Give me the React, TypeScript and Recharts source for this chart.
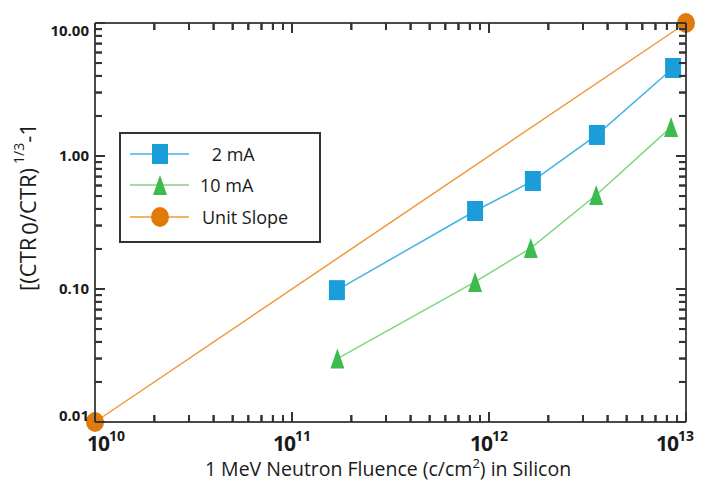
import React from "react";
import { LineChart, Line, XAxis, YAxis, Legend } from "recharts";

// ---- data ----
const fluence2mA = [1.69e11, 8.5e11, 1.67e12, 3.53e12, 8.6e12];
const ctr2mA = [0.098, 0.386, 0.649, 1.44, 4.59];
const fluence10mA = [1.7e11, 8.5e11, 1.63e12, 3.5e12, 8.4e12];
const ctr10mA = [0.030, 0.113, 0.203, 0.509, 1.65];
const unitSlopeFluence = [1e10, 1e13];
const unitSlopeCtr = [0.01, 10];

const seriesNames = ["2 mA", "10 mA", "Unit Slope"];

const xMajorTicks = [1e10, 1e11, 1e12, 1e13];
const xTickBase = "10";
const xTickExponents = ["10", "11", "12", "13"];
const yMajorTicks = [0.01, 0.1, 1, 10];
const yTickLabels = ["0.01", "0.10", "1.00", "10.00"];
const minorMultipliers = [2, 3, 4, 5, 6, 7, 8, 9];

const xTitle = "1 MeV Neutron Fluence (c/cm";
const xTitleSup = "2";
const xTitleEnd = ") in Silicon";

// ---- built tables ----
const withMinors = (majors: number[]) =>
  majors.flatMap((m, i) => (i < majors.length - 1 ? [m, ...minorMultipliers.map((k) => k * m)] : [m]));
const xTicks = withMinors(xMajorTicks);
const yTicks = withMinors(yMajorTicks);

const zip = (xs: number[], ys: number[]) => xs.map((x, i) => ({ x, y: ys[i] }));
const data2mA = zip(fluence2mA, ctr2mA);
const data10mA = zip(fluence10mA, ctr10mA);
const dataUnit = zip(unitSlopeFluence, unitSlopeCtr);

// ---- styles ----
const FONT = "'Open Sans', 'Noto Sans', sans-serif";
const AXIS = "#4a4a4a";
const TICK = "#333333";
const TEXT = "#1a1a1a";
const BLUE = "#1a9dd9";
const BLUE_LINE = "#45b2e4";
const GREEN = "#3dbb4e";
const GREEN_LINE = "#7fd680";
const ORANGE = "#e07b0b";
const ORANGE_LINE = "#ee9838";
const MINOR_LEN = 7;
const MAJOR_LEN = 10;

const majorIndex = (list: number[], v: number) =>
  list.findIndex((m) => Math.abs(m - v) / m < 1e-6);

const BottomTick = (props: any) => {
  const { x, y, payload } = props;
  const idx = majorIndex(xMajorTicks, payload.value);
  const major = idx >= 0;
  const dx = idx === 0 ? 11 : idx === xMajorTicks.length - 1 ? -11 : 0;
  return (
    <g>
      <line x1={x} x2={x} y1={y} y2={y - (major ? MAJOR_LEN : MINOR_LEN)} stroke={TICK} strokeWidth={2} />
      {major && (
        <text x={x + dx} y={y + 29} textAnchor="middle" fontFamily={FONT} fontWeight={700} fontSize={21} fill={TEXT} letterSpacing={-1}>
          {xTickBase}
          <tspan fontSize={14} dy={-10} letterSpacing={0}>{xTickExponents[idx]}</tspan>
        </text>
      )}
    </g>
  );
};

const TopTick = (props: any) => {
  const { x, y, payload } = props;
  const major = majorIndex(xMajorTicks, payload.value) >= 0;
  return (
    <g>
      <line x1={x} x2={x} y1={y} y2={y + (major ? MAJOR_LEN : MINOR_LEN)} stroke={TICK} strokeWidth={2} />
    </g>
  );
};

const LeftTick = (props: any) => {
  const { x, y, payload } = props;
  const idx = majorIndex(yMajorTicks, payload.value);
  const major = idx >= 0;
  const dy = idx === 0 ? -6 : idx === yMajorTicks.length - 1 ? 8 : 0;
  return (
    <g>
      <line x1={x} x2={x + (major ? MAJOR_LEN : MINOR_LEN)} y1={y} y2={y} stroke={TICK} strokeWidth={2} />
      {major && (
        <text x={x - 6} y={y + 5 + dy} textAnchor="end" fontFamily={FONT} fontWeight={700} fontSize={15} fill={TEXT}>
          {yTickLabels[idx]}
        </text>
      )}
    </g>
  );
};

const RightTick = (props: any) => {
  const { x, y, payload } = props;
  const major = majorIndex(yMajorTicks, payload.value) >= 0;
  return (
    <g>
      <line x1={x} x2={x - (major ? MAJOR_LEN : MINOR_LEN)} y1={y} y2={y} stroke={TICK} strokeWidth={2} />
    </g>
  );
};

const YTitle = () => {
  const cx = 30;
  const cy = 207;
  return (
    <text x={cx} y={cy} transform={`rotate(-90 ${cx} ${cy})`} textAnchor="middle" dominantBaseline="middle" fontFamily={FONT} fontSize={22} fill={TEXT}>
      [(CTR
      <tspan dx={3} dy={2}>0</tspan>
      <tspan dy={-2}>/CTR)</tspan>
      <tspan dx={4} dy={-10} fontSize={14}>1/3</tspan>
      <tspan dy={10}>-1</tspan>
    </text>
  );
};

const XTitle = () => (
  <text x={388} y={476} textAnchor="middle" fontFamily={FONT} fontSize={19.5} fill={TEXT}>
    {xTitle}
    <tspan dy={-8} fontSize={13}>{xTitleSup}</tspan>
    <tspan dy={8}>{xTitleEnd}</tspan>
  </text>
);

const Square = ({ cx, cy, fill }: any) => (
  <rect x={cx - 8} y={cy - 10} width={16} height={20} fill={fill} />
);
const Triangle = ({ cx, cy, fill }: any) => (
  <polygon points={`${cx},${cy - 10} ${cx - 7},${cy + 10} ${cx + 7},${cy + 10}`} fill={fill} />
);
const Circle = ({ cx, cy, fill }: any) => <ellipse cx={cx} cy={cy} rx={9} ry={10} fill={fill} />;

const squareDot = (p: any) => <Square key={`s${p.index}`} cx={p.cx} cy={p.cy} fill={BLUE} />;
const triangleDot = (p: any) => <Triangle key={`t${p.index}`} cx={p.cx} cy={p.cy} fill={GREEN} />;
const circleDot = (p: any) => <Circle key={`c${p.index}`} cx={p.cx} cy={p.cy} fill={ORANGE} />;

const LegendBox = () => {
  const rows = [
    { name: " " + seriesNames[0], line: BLUE_LINE, Marker: Square, fill: BLUE, cy: 20, tx: 86 },
    { name: seriesNames[1], line: GREEN_LINE, Marker: Triangle, fill: GREEN, cy: 51, tx: 79 },
    { name: seriesNames[2], line: ORANGE_LINE, Marker: Circle, fill: ORANGE, cy: 83, tx: 81 },
  ];
  return (
    <div style={{ width: 202, height: 111, border: "2px solid #333", boxSizing: "border-box", background: "#fff" }}>
      <svg width={198} height={107} style={{ display: "block" }}>
        {rows.map((r, i) => (
          <g key={i}>
            <line x1={9} x2={68} y1={r.cy} y2={r.cy} stroke={r.line} strokeWidth={1.5} />
            <r.Marker cx={39} cy={r.cy} fill={r.fill} />
            <text x={r.tx} y={r.cy + 7} fontFamily={FONT} fontSize={18} fill={TEXT} style={{ whiteSpace: "pre" }}>
              {r.name}
            </text>
          </g>
        ))}
      </svg>
    </div>
  );
};

const xDomain = [xMajorTicks[0], xMajorTicks[xMajorTicks.length - 1]];
const yDomain = [yMajorTicks[0], yMajorTicks[yMajorTicks.length - 1]];
const tickLineStyle = { stroke: TICK, strokeWidth: 2 };

export default function App() {
  return (
    <div style={{ position: "absolute", left: 0, top: 0, width: 705, height: 486 }}>
      <LineChart width={705} height={486} margin={{ top: 0, right: 0, bottom: 0, left: 0 }}>
        <XAxis
          xAxisId="b"
          dataKey="x"
          type="number"
          scale="log"
          domain={xDomain}
          ticks={xTicks}
          interval={0}
          tickLine={tickLineStyle}
          tickSize={-MINOR_LEN}
          tickMargin={MINOR_LEN}
          tick={(p: any) => <BottomTick {...p} />}
          axisLine={{ stroke: AXIS, strokeWidth: 2 }}
          height={64}
          orientation="bottom"
        />
        <XAxis
          xAxisId="t"
          dataKey="x"
          type="number"
          scale="log"
          domain={xDomain}
          ticks={xTicks}
          interval={0}
          tickLine={tickLineStyle}
          tickSize={-MINOR_LEN}
          tickMargin={MINOR_LEN}
          tick={(p: any) => <TopTick {...p} />}
          axisLine={{ stroke: AXIS, strokeWidth: 2 }}
          height={23}
          orientation="top"
        />
        <YAxis
          yAxisId="l"
          dataKey="y"
          type="number"
          scale="log"
          domain={yDomain}
          ticks={yTicks}
          interval={0}
          tickLine={tickLineStyle}
          tickSize={-MINOR_LEN}
          tickMargin={MINOR_LEN}
          tick={(p: any) => <LeftTick {...p} />}
          axisLine={{ stroke: AXIS, strokeWidth: 2 }}
          width={95}
          orientation="left"
        />
        <YAxis
          yAxisId="r"
          dataKey="y"
          type="number"
          scale="log"
          domain={yDomain}
          ticks={yTicks}
          interval={0}
          tickLine={tickLineStyle}
          tickSize={-MINOR_LEN}
          tickMargin={MINOR_LEN}
          tick={(p: any) => <RightTick {...p} />}
          axisLine={{ stroke: AXIS, strokeWidth: 2 }}
          width={19}
          orientation="right"
        />
        {/* invisible series binding the top and right frame axes */}
        <Line
          xAxisId="t"
          yAxisId="r"
          data={dataUnit}
          dataKey="y"
          stroke="none"
          dot={false}
          activeDot={false}
          legendType="none"
          isAnimationActive={false}
        />
        <Line
          xAxisId="b"
          yAxisId="l"
          data={dataUnit}
          dataKey="y"
          name={seriesNames[2]}
          type="linear"
          stroke={ORANGE_LINE}
          strokeWidth={1.5}
          dot={circleDot}
          activeDot={false}
          isAnimationActive={false}
        />
        <Line
          xAxisId="b"
          yAxisId="l"
          data={data10mA}
          dataKey="y"
          name={seriesNames[1]}
          type="linear"
          stroke={GREEN_LINE}
          strokeWidth={1.5}
          dot={triangleDot}
          activeDot={false}
          isAnimationActive={false}
        />
        <Line
          xAxisId="b"
          yAxisId="l"
          data={data2mA}
          dataKey="y"
          name={seriesNames[0]}
          type="linear"
          stroke={BLUE_LINE}
          strokeWidth={1.5}
          dot={squareDot}
          activeDot={false}
          isAnimationActive={false}
        />
        <Legend
          layout="vertical"
          align="center"
          verticalAlign="middle"
          content={() => <LegendBox />}
          wrapperStyle={{ left: 119, top: 132, width: 202, height: 111 }}
        />
        <XTitle />
        <YTitle />
      </LineChart>
    </div>
  );
}
